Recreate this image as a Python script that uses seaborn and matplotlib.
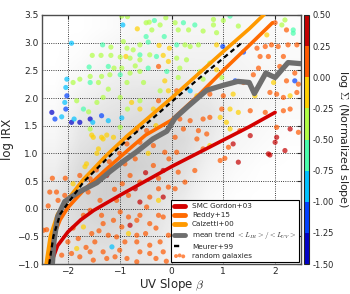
import numpy as np
import matplotlib
matplotlib.use("Agg")
import matplotlib.pyplot as plt
from matplotlib.colors import ListedColormap, BoundaryNorm
from matplotlib.cm import ScalarMappable
from matplotlib.lines import Line2D
import seaborn as sns

# --- relations ---
smc_beta = [-2.33, -2.2, -2.0, -1.75, -1.5, -1.0, -0.5, 0.0, 0.5, 1.0, 1.5, 2.0]
smc_irx = [-1.0, -0.67, -0.42, -0.2, -0.03, 0.24, 0.5, 0.76, 1.0, 1.24, 1.48, 1.74]

reddy_beta = [-2.38, -2.3, -2.15, -2.0, -1.7, -1.25, -0.85, -0.5, 0.0, 0.5, 1.0, 1.5, 1.95]
reddy_irx = [-1.0, -0.55, -0.2, 0.02, 0.33, 0.72, 1.05, 1.33, 1.6, 2.03, 2.5, 2.95, 3.36]

calz_beta = [-2.42, -2.34, -2.2, -2.0, -1.7, -1.25, -0.85, -0.5, 0.0, 0.5, 1.0, 1.5, 1.8]
calz_irx = [-1.0, -0.5, -0.1, 0.17, 0.53, 0.97, 1.32, 1.6, 2.0, 2.42, 2.84, 3.25, 3.52]

meurer_beta = [-2.36, -2.28, -2.15, -1.96, -1.7, -1.25, -0.85, -0.5, 0.0, 0.5, 1.0, 1.36]
meurer_irx = [-1.0, -0.5, -0.1, 0.15, 0.48, 0.9, 1.25, 1.52, 1.93, 2.33, 2.72, 3.0]

trend_beta = [-2.3, -2.27, -2.2, -2.06, -1.81, -1.44, -1.19, -0.94, -0.67, -0.36, -0.09,
              0.07, 0.32, 0.68, 1.0, 1.28, 1.5, 1.6, 1.82, 2.0, 2.25, 2.5]
trend_irx = [-1.0, -0.6, -0.15, 0.13, 0.29, 0.47, 0.67, 0.85, 1.03, 1.26, 1.4,
             1.64, 1.85, 2.14, 2.23, 2.3, 2.28, 2.08, 2.45, 2.37, 2.64, 2.62]

# --- random galaxies: beta, log IRX, log Sigma (normalized slope) ---
gal_beta = [
    -1.93, -1.33, -1.17, -1.53, -1.36, -1.17, -0.99, -1.59, -1.22, -1.11, -1.57, -1.35, -1.19, -0.99,
    -0.96, -0.94, -0.85, -0.66, -0.49, -0.43, -0.33, -0.22, -0.11, -0.38, -0.49, -0.14, -0.93, -0.61,
    -0.45, -0.24, -0.04, -0.86, -0.74, -0.61, -0.42, -0.29, -0.16, -0.88, -0.80, -0.61, -0.25, -0.45,
    -0.70, -0.96, -0.80, -0.61, -0.09, -0.06,
    0.07, 0.23, 0.33, 0.13, 0.45, 0.61, 0.81, 0.81, 1.0, 1.13, 1.29, 0.87, 0.10, 0.26, 0.36, 0.52,
    0.87, 0.99, 1.39, 1.65, 1.81, 1.93, 2.06, 2.25, 2.42, 2.0, 2.13, 2.22, 2.35, 2.19, 2.35, 1.84,
    1.71, 1.87, 2.16, 1.68, 1.58, 2.09, 2.38, 0.10, 0.29, 0.16, 0.55, 0.74, 0.87,
    -2.02, -2.04, -2.02, -2.06, -2.31, -2.25, -2.12, -2.04, -1.93, -1.77, -1.88, -1.57, -1.52, -1.70,
    -1.60, -1.35, -1.22, -0.96, -1.83, -1.90, -1.77, -1.57, -1.41, -1.22, -1.32, -0.99, -0.85, -1.44,
    -0.61, -0.35, -0.77, -0.61, -0.25, -0.13, -0.54, -0.86, -0.22, -0.06, -1.51, -1.35, -1.25, -1.12,
    -0.86, -0.99, -0.67, -0.48, -0.30, -1.57, -1.54, -1.44, -1.67,
    0.13, 0.61, 0.97, 1.23, 1.39, 1.97, 2.22, 2.38, 2.45, 0.10, 0.36, 0.49, 0.68, 0.74, 1.0, 1.19,
    1.61, 1.90, 2.03, 2.16, 2.29, 2.42, 0.97, 1.13, 1.29, 1.52, 1.81, 2.16, 2.29, 0.61, 0.74, 0.94,
    0.16, 0.36, 1.06, 1.13, 1.32, 0.52, 0.68, 0.23, 2.03, 2.29, 2.45, 0.07, 0.49, 1.52, 2.03, 0.10,
    0.61, 0.74, 1.10, 1.19, 1.29, 0.94, 1.87, 2.0, 2.19, 0.13, 0.45, 0.26, 0.07, 1.03, 1.90,
    -1.32, -0.86, -1.41, -0.61, -0.35, -0.13, -1.64, -0.90, -0.35, -0.16, -1.77, -1.57, -1.25, -0.80,
    -0.61, -0.25, -0.06, -2.22, -2.06, -2.19, -1.61, -1.38, -1.06, -0.83, -0.61, -0.42, -0.25, -0.16,
    -0.70, -2.47, -2.41, -2.12, -1.93, -1.77, -1.83, -1.70, -1.80, -1.70, -1.57, -1.54, -1.35, -1.32,
    -1.48, -1.57, -1.51, -1.32, -1.15, -1.06, -1.22, -1.12, -0.99, -0.83, -0.96, -0.83, -0.67, -0.61,
    -0.48, -0.42, -0.25, -0.16, -0.67, -0.67, -0.86, -0.61, -0.42, -0.42, -0.22, -0.16, -0.06, -0.67,
    -1.09, -2.30, -2.38,
    -2.0, -1.9, -1.65, -1.4, -1.25, -1.0, -0.9, -0.8, -0.5, -0.3, -0.1, -0.3, -1.1, -0.95,
    -1.45, -1.2, -0.5, -0.25, -0.7, -0.05, -1.9, -2.05, -2.35, -1.0, -0.45,
]
gal_irx = [
    2.99, 2.96, 2.92, 2.77, 2.77, 2.77, 2.74, 2.56, 2.57, 2.54, 2.39, 2.39, 2.42, 2.42,
    3.48, 3.32, 3.47, 3.25, 3.36, 3.37, 3.40, 3.32, 3.45, 3.23, 3.11, 3.11, 3.02, 2.96,
    3.01, 2.95, 2.90, 2.90, 2.87, 2.78, 2.78, 2.75, 2.77, 2.75, 2.72, 2.69, 2.57, 2.54,
    2.58, 2.54, 2.45, 2.48, 2.48, 2.66,
    3.36, 3.36, 3.23, 3.23, 3.32, 3.21, 3.32, 3.42, 3.40, 3.48, 3.30, 3.18, 2.96, 2.96, 2.93, 2.96,
    2.96, 2.93, 2.83, 2.90, 2.93, 2.96, 2.93, 2.96, 2.96, 3.36, 3.32, 3.23, 3.23, 3.41, 3.17, 3.14,
    2.75, 2.75, 2.75, 2.54, 2.42, 2.57, 2.45, 2.72, 2.69, 2.54, 2.48, 2.63, 2.51,
    2.34, 2.19, 2.04, 1.92, 1.74, 1.62, 1.66, 1.80, 1.56, 1.56, 1.62, 1.62, 1.56, 1.80,
    1.75, 1.68, 1.59, 1.64, 1.95, 2.28, 2.34, 2.28, 2.28, 2.16, 2.01, 2.01, 1.80, 1.92,
    1.80, 1.80, 1.92, 1.95, 1.95, 2.31, 2.28, 2.28, 2.13, 2.13, 1.29, 1.29, 1.33, 1.29,
    1.29, 1.47, 1.44, 1.41, 1.50, 1.44, 1.33, 1.00, 0.76,
    2.37, 2.34, 2.37, 2.31, 2.28, 2.28, 2.31, 2.31, 2.25, 2.13, 2.13, 2.04, 2.16, 2.07, 2.04, 2.07,
    2.04, 2.10, 2.07, 2.01, 2.04, 2.10, 1.80, 1.80, 1.74, 1.77, 1.74, 1.77, 1.80, 1.62, 1.65, 1.65,
    1.62, 1.59, 1.56, 1.44, 1.41, 1.41, 1.35, 1.44, 1.47, 1.44, 1.38, 1.29, 1.26, 1.32, 1.29, 1.02,
    1.08, 1.14, 1.11, 1.17, 0.84, 0.87, 0.99, 1.20, 1.05, 0.66, 0.69, 0.48, 0.36, 0.91, 0.97,
    1.26, 1.17, 1.08, 1.20, 1.14, 1.02, 0.81, 0.81, 0.78, 0.69, 0.60, 0.54, 0.60, 0.60,
    0.48, 0.36, 0.39, 0.30, 0.24, 0.15, 0.30, 0.15, 0.15, 0.24, 0.12, 0.21, 0.15, 0.21,
    0.36, -0.39, -0.38, -0.84, -0.81, -0.87, -0.72, -0.33, -0.54, -0.12, -0.03, -0.45, -0.12, -0.27,
    -0.60, -0.78, -0.93, -0.78, -0.69, -0.51, -0.48, -0.21, -0.06, -0.45, -0.33, -0.15, -0.21, -0.12,
    0.03, -0.27, -0.12, -0.15, -0.48, -0.60, -0.90, -0.78, -0.66, -0.81, -0.60, -0.78, -0.48, -0.96,
    -0.87, 0.55, 0.05,
    -0.6, -0.35, -0.7, -0.4, -0.9, -0.75, -0.6, -0.3, -0.45, -0.35, -0.95, -0.9, 0.35, 0.45,
    0.7, 0.85, 0.65, 0.55, 0.9, 0.9, 0.45, 0.55, 0.3, 1.0, 1.0,
]
gal_sigma = [
    -0.875, -0.625, -0.375, -0.375, -0.375, -0.375, -0.375, -0.625, -0.625, -0.375, -0.375, -0.375, -0.375, -0.625,
    -0.375, -0.875, -0.375, -0.125, -0.375, -0.375, -0.625, -0.375, -0.375, -0.375, -0.625, -0.625, -0.375, -0.375,
    -0.625, -0.125, -0.125, -0.375, -0.375, -0.625, -0.375, -0.625, -0.125, -0.125, -0.375, -0.375, 0.125, -0.625,
    -0.375, -0.375, -0.375, -0.375, -0.625, -0.125,
    -0.375, -0.625, -0.375, -0.375, -0.625, -0.375, -0.375, -0.375, -0.375, -0.625, -0.375, -0.375, -0.625, -0.375, -0.375, -0.375,
    -0.125, -1.125, -1.125, 0.125, 0.125, 0.125, 0.125, 0.125, 0.125, 0.125, -0.375, 0.125, -0.625, -0.375, -0.625, -0.125,
    0.125, 0.125, 0.125, 0.125, 0.125, 0.125, 0.125, -0.375, -0.375, -0.375, -0.375, -0.375, -0.125,
    -0.875, -0.875, -1.125, -0.875, -1.375, -1.125, -0.875, -1.125, -1.375, -1.375, -0.875, -1.375, -0.875, -0.625,
    -0.375, -1.125, -0.875, -0.875, -0.375, -0.375, -0.375, -0.625, -0.375, -0.375, -0.375, -0.375, -0.375, -0.375,
    -0.125, -0.125, -0.125, -0.375, 0.125, -0.125, -0.375, -0.375, -0.375, -0.125, -0.125, -0.125, -0.125, -0.125,
    0.125, -0.375, 0.125, 0.125, -0.125, -0.375, -0.125, -0.125, -0.125,
    -0.375, -0.375, -0.375, -1.125, 0.125, -0.125, 0.125, -1.125, 0.125, 0.125, -0.875, -0.125, -1.125, 0.125, 0.125, -0.125,
    -0.125, 0.125, 0.125, 0.125, -0.125, 0.125, 0.125, -0.125, -0.125, 0.125, 0.125, 0.125, 0.125, 0.125, 0.125, -0.125,
    0.125, 0.125, -0.125, -0.125, 0.125, 0.125, 0.125, 0.125, 0.125, 0.375, 0.125, 0.125, 0.125, 0.375, 0.375, 0.125,
    0.125, -0.125, 0.125, 0.375, 0.375, 0.125, 0.375, 0.375, 0.375, 0.125, 0.125, 0.125, 0.125, 0.125, 0.375,
    -0.125, 0.125, -0.125, 0.125, 0.125, 0.125, -0.125, 0.125, 0.125, 0.375, 0.125, 0.125, 0.375, 0.125,
    0.125, 0.125, 0.125, 0.125, 0.125, 0.125, 0.125, 0.125, 0.125, 0.125, 0.375, 0.125, -0.125, 0.375,
    0.375, 0.125, 0.125, 0.125, 0.125, 0.125, -0.125, -0.125, 0.125, 0.125, 0.125, 0.125, 0.125, 0.125,
    0.125, 0.125, 0.125, 0.125, -0.875, 0.125, 0.125, 0.125, 0.125, -0.125, 0.125, 0.125, 0.125, 0.125,
    0.125, 0.125, 0.125, 0.125, 0.125, 0.125, 0.125, 0.125, 0.125, 0.125, 0.125, 0.125, 0.125, 0.125,
    0.125, 0.125, 0.125,
    0.125, 0.125, 0.125, 0.125, 0.125, 0.125, 0.125, 0.375, 0.125, 0.125, 0.125, 0.125, 0.125, 0.125,
    0.125, 0.125, 0.375, 0.125, 0.125, 0.125, -0.125, 0.125, 0.125, 0.125, -0.125,
]

# --- background density of the full sample (gray cloud) ---
dens_beta = [-2.25, -1.75, -1.25, -0.75, -0.25, 0.25, 0.75, 1.25, 1.75, 2.25]
dens_irx = [-0.75, -0.25, 0.25, 0.75, 1.25, 1.75, 2.25, 2.75, 3.25]
dens = [
    [0.30, 0.40, 0.40, 0.35, 0.30, 0.15, 0.05, 0.00, 0.00, 0.00],
    [0.35, 0.45, 0.50, 0.45, 0.35, 0.20, 0.05, 0.00, 0.00, 0.00],
    [0.35, 0.50, 0.55, 0.50, 0.40, 0.30, 0.10, 0.02, 0.00, 0.00],
    [0.25, 0.45, 0.55, 0.55, 0.50, 0.40, 0.20, 0.08, 0.02, 0.00],
    [0.15, 0.35, 0.45, 0.50, 0.50, 0.45, 0.30, 0.15, 0.08, 0.03],
    [0.08, 0.30, 0.35, 0.40, 0.45, 0.40, 0.35, 0.20, 0.12, 0.08],
    [0.02, 0.15, 0.25, 0.30, 0.30, 0.30, 0.25, 0.20, 0.15, 0.10],
    [0.00, 0.05, 0.15, 0.20, 0.20, 0.20, 0.20, 0.15, 0.10, 0.08],
    [0.00, 0.00, 0.05, 0.12, 0.15, 0.15, 0.15, 0.12, 0.08, 0.05],
]

cbar_bounds = [-1.5, -1.25, -1.0, -0.75, -0.5, -0.25, 0.0, 0.25, 0.5]

sns.set_style("white")
plt.rcParams["mathtext.fontset"] = "cm"
plt.rcParams["font.family"] = ["DejaVu Sans"]

jet8 = ListedColormap(plt.get_cmap("jet")(np.linspace(1 / 16, 15 / 16, 8)))
norm = BoundaryNorm(cbar_bounds, jet8.N)

fig = plt.figure(figsize=(3.5, 2.94), dpi=100)
ax = fig.add_axes([0.12, 0.102, 0.74, 0.847])
cax = fig.add_axes([0.869, 0.102, 0.013, 0.847])

ax.imshow(dens, origin="lower", cmap="Greys", vmin=0, vmax=1.9, interpolation="bilinear",
          extent=[-2.5, 2.5, -1.0, 3.5], aspect="auto", zorder=0)

# scatter of random galaxies, colored by binned jet
labels = [f"{s:.3f}" for s in gal_sigma]
pal = {f"{v:.3f}": jet8(norm(v)) for v in sorted(set(gal_sigma))}
sns.scatterplot(x=gal_beta, y=gal_irx, hue=labels, palette=pal, s=14, alpha=0.7,
                linewidth=0, legend=False, ax=ax, zorder=2)

sns.lineplot(x=smc_beta, y=smc_irx, sort=False, estimator=None, color="#d40000", lw=2.6, ax=ax, zorder=3)
sns.lineplot(x=reddy_beta, y=reddy_irx, sort=False, estimator=None, color="#ff6a00", lw=2.6, ax=ax, zorder=3)
sns.lineplot(x=calz_beta, y=calz_irx, sort=False, estimator=None, color="#ff9a00", lw=2.6, ax=ax, zorder=3)
sns.lineplot(x=trend_beta, y=trend_irx, sort=False, estimator=None, color="#6e6e6e", lw=3.8, ax=ax, zorder=3)
sns.lineplot(x=meurer_beta, y=meurer_irx, sort=False, estimator=None, color="k", lw=1.6,
             dashes=(2.2, 1.6), ax=ax, zorder=4)

ax.set_xlim(-2.5, 2.5)
ax.set_ylim(-1.0, 3.5)
ax.set_xticks([-2, -1, 0, 1, 2])
ax.set_yticks(np.arange(-1.0, 3.51, 0.5))
ax.grid(True, linestyle=":", color="k", linewidth=0.6, zorder=1)
ax.tick_params(direction="in", length=3, labelsize=6.5, top=True, right=True, pad=2.5)
for sp in ax.spines.values():
    sp.set_color("0.3")
    sp.set_linewidth(1.0)
ax.set_xlabel(r"UV Slope $\beta$", fontsize=8.5, labelpad=0)
ax.set_ylabel("log IRX", fontsize=8.5, labelpad=2)

handles = [
    Line2D([], [], color="#d40000", lw=3.5),
    Line2D([], [], color="#ff6a00", lw=3.5),
    Line2D([], [], color="#ff9a00", lw=3.5),
    Line2D([], [], color="#6e6e6e", lw=3.5),
    Line2D([], [], color="k", lw=1.7, dashes=(2.2, 20)),
    ax.scatter([], [], s=8, color=jet8(norm(0.125)), alpha=0.7, linewidth=0),
]
names = ["SMC Gordon+03", "Reddy+15", "Calzetti+00", r"mean trend $<L_{IR}>/<L_{UV}>$",
         "Meurer+99", "random galaxies"]
leg = ax.legend(handles, names, loc="lower right", fontsize=5.2, fancybox=False, framealpha=1,
                edgecolor="k", handlelength=1.6, handletextpad=0.9, labelspacing=0.4,
                borderaxespad=0.3, scatterpoints=3)
leg.get_frame().set_linewidth(0.8)
leg.set_zorder(5)

cb = fig.colorbar(ScalarMappable(norm=norm, cmap=jet8), cax=cax, ticks=cbar_bounds)
cb.ax.set_yticklabels([f"{b:.2f}" for b in cbar_bounds])
cb.ax.tick_params(labelsize=6, length=0, pad=3)
cb.outline.set_linewidth(0.8)
cb.set_label(r"log $\Sigma$ (Normalized slope)", rotation=270, fontsize=8, labelpad=11)

fig.savefig("out.png", dpi=100)
